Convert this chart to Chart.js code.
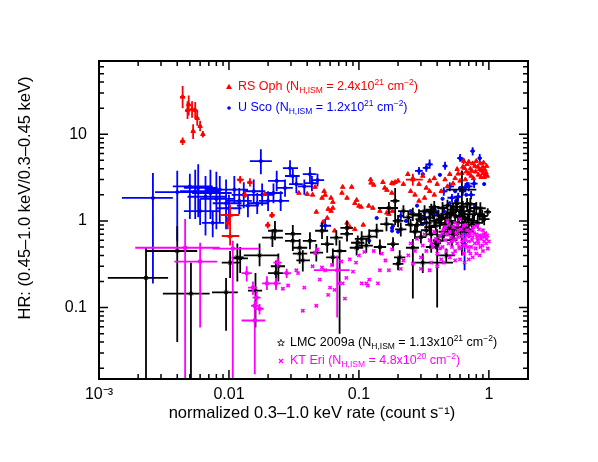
<!DOCTYPE html>
<html>
<head>
<meta charset="utf-8">
<script src="https://cdn.jsdelivr.net/npm/chart.js@4/dist/chart.umd.min.js"></script>
<style>
  body { margin: 0; background: #fff; }
  canvas { display: block; }
</style>
</head>
<body>
<canvas id="hrChart" width="598" height="462"></canvas>
<script>
// Series names and N_H,ISM values shown in the legend
var seriesNames = ["RS Oph", "U Sco", "LMC 2009a", "KT Eri"];
var nhMantissa = ["2.4", "1.2", "1.13", "4.8"];
var nhExponent = ["21", "21", "21", "20"];
var seriesColors = ["#ff0000", "#0000ff", "#000000", "#ff00ff"];

// Axis tick labels (only the decades are labelled)
var xTickLabels = { "-3": "10\u207B\u00B3", "-2": "0.01", "-1": "0.1", "0": "1" };
var yTickLabels = { "-1": "0.1", "0": "1", "1": "10" };

// RS Oph: normalized rate, hardness ratio; error ranges [rateLo, rateHi, hrLo, hrHi] for the first points
var rsOphRate = [
  0.0044, 0.0049, 0.0048, 0.0052, 0.0055, 0.0057, 0.0053, 0.0060, 0.0063, 0.0044,
  0.0122, 0.0145, 0.0133, 0.0102, 0.0102, 0.0098, 0.0199, 0.0214, 0.26, 0.64,
  0.0189, 0.0345, 0.040, 0.044, 0.046, 0.052, 0.054, 0.055, 0.061, 0.063,
  0.074, 0.075, 0.081, 0.088, 0.093, 0.096, 0.100, 0.104, 0.123, 0.124,
  0.130, 0.153, 0.158, 0.164, 0.179, 0.179, 0.19, 0.047, 0.058, 0.061,
  0.063, 0.057, 0.053, 0.065, 0.081, 0.085, 0.093, 0.108, 0.119, 0.128,
  0.145, 0.164, 0.17, 0.181, 0.183, 0.20, 0.22, 0.238, 0.25, 0.26,
  0.27, 0.29, 0.29, 0.31, 0.32, 0.33, 0.35, 0.35, 0.38, 0.38,
  0.40, 0.43, 0.46, 0.48, 0.50, 0.53, 0.55, 0.57, 0.58, 0.60,
  0.62, 0.63, 0.65, 0.66, 0.67, 0.68, 0.70, 0.70, 0.72, 0.73,
  0.74, 0.75, 0.76, 0.78, 0.79, 0.80, 0.82, 0.83, 0.85, 0.86,
  0.87, 0.88, 0.90, 0.90, 0.91, 0.92, 0.93, 0.94, 0.95, 0.96, 0.97
];
var rsOphHR = [
  27, 22, 19, 19.4, 19, 15.3, 10.8, 12.4, 10.0, 8.3,
  3.0, 2.8, 2.0, 1.17, 0.67, 0.95, 0.9, 1.17, 3.0, 4.9,
  2.04, 2.1, 2.04, 2.0, 2.46, 1.84, 2.2, 1.99, 1.84, 1.65,
  2.1, 2.46, 1.84, 2.46, 1.6, 1.74, 1.49, 1.45, 3.0, 2.75,
  2.6, 2.8, 2.4, 2.27, 2.73, 2.1, 2.8, 1.27, 1.37, 1.30,
  1.41, 1.08, 0.97, 0.77, 0.95, 0.85, 0.8, 0.9, 1.49, 1.41,
  1.30, 1.24, 1.2, 1.30, 2.7, 2.9, 2.66, 3.46, 2.2, 3.1,
  2.0, 2.66, 1.7, 3.3, 1.84, 2.4, 2.9, 2.2, 3.1, 2.0,
  2.66, 2.2, 3.0, 2.5, 3.46, 2.7, 3.1, 3.95, 3.5, 2.9,
  3.56, 4.2, 4.06, 3.0, 3.7, 4.5, 3.5, 4.8, 4.0, 3.3,
  3.77, 4.6, 3.1, 4.3, 3.7, 4.9, 4.2, 3.4, 3.95, 4.6,
  3.2, 3.8, 3.56, 4.2, 4.7, 3.2, 3.9, 3.46, 3.6, 4.3, 3.3
];
var rsOphErr = [
  [0.0042, 0.0046, 20, 36], [0.0047, 0.0051, 16.5, 28], [0.0046, 0.0050, 15, 24],
  [0.0050, 0.0054, 15.5, 24], [0.0053, 0.0057, 15, 23.5], [0.0055, 0.0059, 12.5, 19],
  [0.0051, 0.0055, 8.8, 13], [0.0058, 0.0062, 10.8, 14.3], [0.0061, 0.0065, 9.2, 10.9],
  [0.0042, 0.0046, 7.5, 9.2], [0.0115, 0.0130, 2.7, 3.3], [0.0138, 0.0152, 2.5, 3.1],
  [0.0127, 0.0139, 1.85, 2.2], [0.0086, 0.0120, 0.85, 1.55], [0.0088, 0.0120, 0.52, 0.85],
  [0.0094, 0.0103, 0.8, 1.12], [0.0190, 0.0208, 0.82, 0.98], [0.0205, 0.0225, 1.08, 1.27],
  [0.230, 0.310, 2.55, 3.5], [0.62, 0.66, 4.5, 5.3]
];

// U Sco
var uScoRate = [
  0.0026, 0.0040, 0.0050, 0.0055, 0.0058, 0.0066, 0.0072, 0.0080, 0.0085, 0.0095,
  0.0060, 0.0075, 0.0100, 0.011, 0.012, 0.013, 0.014, 0.0155, 0.0165, 0.0176,
  0.018, 0.020, 0.022, 0.0233, 0.025, 0.027, 0.0295, 0.031, 0.033, 0.038,
  0.042, 0.0435, 0.048, 0.055, 0.35, 0.33, 0.29, 0.46, 0.60, 0.75,
  0.85, 0.65, 0.21, 0.45, 0.50, 0.58, 0.63, 0.70, 0.73, 0.77,
  0.52, 0.66, 0.32, 0.38,
  0.31, 0.42, 0.63, 0.92, 0.55, 0.60, 0.67, 0.68, 0.50, 0.47,
  0.35, 0.183, 0.23, 0.20, 0.31, 0.12, 0.18, 0.137, 0.18, 0.25,
  0.28, 0.32, 0.38, 0.40, 0.45, 0.52, 0.56, 0.44, 0.70, 0.78
];
var uScoHR = [
  1.84, 2.15, 2.5, 2.2, 2.4, 1.9, 2.1, 1.8, 2.3, 1.6,
  1.3, 0.95, 1.4, 2.3, 1.7, 2.0, 1.5, 2.2, 1.6, 4.9,
  2.0, 1.7, 2.1, 2.9, 1.7, 2.4, 4.06, 3.3, 2.66, 2.5,
  3.46, 2.73, 2.96, 0.88, 4.5, 4.1, 3.77, 4.3, 5.3, 6.4,
  5.3, 0.54, 1.14, 2.2, 2.5, 1.9, 2.2, 2.5, 2.0, 2.7,
  1.85, 2.45, 1.1, 1.3,
  3.46, 3.4, 5.1, 2.66, 2.2, 2.4, 2.0, 2.66, 1.6, 1.08,
  1.08, 0.88, 1.0, 0.75, 0.92, 0.59, 0.83, 1.08, 0.77, 1.3,
  1.5, 1.25, 1.4, 1.2, 1.3, 1.45, 1.7, 1.8, 1.3, 1.5
];
var uScoErr = [
  [0.0015, 0.0037, 0.19, 3.56], [0.0027, 0.0060, 0.59, 3.8], [0.0037, 0.0075, 1.05, 3.5],
  [0.0042, 0.0085, 1.05, 3.9], [0.0045, 0.0082, 1.1, 4.5], [0.0048, 0.0095, 0.68, 3.3],
  [0.0052, 0.0105, 1.05, 3.9], [0.0060, 0.0110, 0.8, 3.7], [0.0065, 0.0120, 0.95, 3.3],
  [0.0075, 0.0125, 0.8, 3.0], [0.0045, 0.0085, 0.9, 1.8], [0.0062, 0.0092, 0.65, 1.3],
  [0.0080, 0.0125, 1.0, 2.0], [0.009, 0.014, 1.6, 3.3], [0.0095, 0.015, 1.2, 2.4],
  [0.0105, 0.016, 1.4, 2.8], [0.0115, 0.017, 1.1, 2.0], [0.013, 0.019, 1.6, 3.0],
  [0.014, 0.020, 1.2, 2.1], [0.0145, 0.0214, 3.46, 6.7], [0.015, 0.022, 1.5, 2.7],
  [0.017, 0.024, 1.3, 2.2], [0.019, 0.026, 1.6, 2.7], [0.020, 0.027, 2.2, 3.8],
  [0.021, 0.029, 1.3, 2.2], [0.023, 0.031, 1.9, 3.0], [0.026, 0.034, 3.2, 5.0],
  [0.027, 0.035, 2.7, 4.0], [0.029, 0.037, 2.1, 3.3], [0.034, 0.043, 2.0, 3.0],
  [0.037, 0.047, 2.8, 4.2], [0.038, 0.049, 2.2, 3.3], [0.043, 0.054, 2.5, 3.5],
  [0.050, 0.061, 0.75, 1.05], [0.33, 0.37, 4.0, 5.1], [0.31, 0.35, 3.7, 4.6],
  [0.27, 0.31, 3.4, 4.2], [0.44, 0.48, 3.9, 4.8], [0.57, 0.63, 4.8, 5.9],
  [0.72, 0.78, 5.7, 7.1], [0.82, 0.88, 4.8, 5.9], [0.62, 0.68, 0.27, 0.75],
  [0.20, 0.22, 1.0, 1.3], [0.42, 0.48, 1.95, 2.45], [0.47, 0.54, 2.2, 2.8],
  [0.54, 0.62, 1.68, 2.12], [0.59, 0.67, 1.95, 2.45], [0.65, 0.75, 2.2, 2.8],
  [0.68, 0.78, 1.78, 2.22], [0.72, 0.82, 2.4, 3.0], [0.48, 0.56, 1.65, 2.05],
  [0.62, 0.70, 2.18, 2.72], [0.30, 0.34, 0.98, 1.22], [0.35, 0.41, 1.16, 1.45]
];

// LMC 2009a
var lmcRate = [
  0.0023, 0.0040, 0.0051, 0.0095, 0.0102, 0.0116, 0.0122, 0.0160, 0.0172, 0.0216,
  0.0226, 0.0230, 0.0240, 0.0310, 0.0310, 0.0350, 0.0350, 0.0370, 0.0420, 0.0470,
  0.0520, 0.0570, 0.0630, 0.0670, 0.0710, 0.0810, 0.0810, 0.0960, 0.0980, 0.1050,
  0.1140, 0.1200, 0.1370, 0.1450, 0.1630, 0.1700, 0.1830, 0.1900, 0.2060, 0.2100,
  0.2200, 0.2400, 0.2600, 0.2600, 0.2700, 0.2800, 0.2900, 0.3000, 0.3100, 0.3200,
  0.3300, 0.3500, 0.3500, 0.3600, 0.3700, 0.3800, 0.4000, 0.4100, 0.4200, 0.4300,
  0.4400, 0.4500, 0.4600, 0.4700, 0.4800, 0.5000, 0.5200, 0.5300, 0.5500, 0.5700,
  0.5800, 0.6000, 0.6200, 0.6300, 0.6500, 0.6600, 0.6800, 0.7000, 0.7200, 0.7500,
  0.8000, 0.8500, 0.8900, 0.9800,
  0.3000, 0.3300, 0.3600, 0.3900, 0.4100, 0.4400, 0.4700, 0.4900, 0.5100, 0.5400,
  0.5600, 0.5900, 0.6100, 0.6400, 0.6700, 0.6900, 0.7100, 0.7400, 0.7700, 0.8200,
  0.8600, 0.9200, 0.3900, 0.5200, 0.5700, 0.4800, 0.6300, 0.2000, 0.2500, 0.3800,
  0.3600, 0.2000
];
var lmcHR = [
  0.22, 0.45, 0.145, 0.15, 0.33, 0.38, 0.37, 0.157, 0.40, 0.64,
  0.77, 0.25, 0.30, 0.59, 0.71, 0.49, 0.42, 0.35, 0.59, 0.43,
  0.77, 0.54, 0.38, 0.64, 0.45, 0.83, 0.71, 0.49, 0.56, 0.62,
  0.52, 0.66, 0.77, 0.50, 0.92, 1.41, 0.54, 1.70, 0.38, 0.80,
  1.30, 1.10, 0.49, 1.20, 0.75, 0.90, 1.15, 1.05, 0.33, 1.30,
  0.95, 0.85, 1.10, 0.70, 1.25, 1.00, 0.60, 0.59, 0.95, 1.05,
  1.41, 0.75, 0.90, 0.40, 1.20, 1.00, 0.85, 1.35, 1.15, 0.80,
  0.95, 1.30, 2.30, 0.85, 1.10, 0.95, 1.57, 0.75, 1.57, 1.00,
  1.41, 1.20, 1.14, 1.27,
  0.65, 0.78, 1.35, 0.88, 1.15, 0.68, 1.10, 0.80, 1.25, 0.70,
  1.45, 1.10, 0.75, 1.20, 0.80, 1.05, 1.30, 0.90, 1.20, 0.95,
  1.40, 1.05, 0.55, 0.60, 1.60, 1.50, 1.45, 1.00, 0.90, 1.45,
  0.50, 0.32
];
var lmcErr = [
  [0.00117, 0.0034, 0.01, 0.49], [0.0023, 0.0057, 0.04, 0.87], [0.0031, 0.0071, 0.01, 0.33],
  [0.0074, 0.0117, 0.054, 0.22], [0.0088, 0.0120, 0.22, 0.45], [0.0105, 0.0130, 0.20, 0.55],
  [0.0105, 0.0140, 0.25, 0.50], [0.0140, 0.0180, 0.059, 0.25], [0.0130, 0.0240, 0.30, 0.55],
  [0.0180, 0.0260, 0.50, 0.80], [0.0200, 0.0260, 0.60, 1.00], [0.0200, 0.0260, 0.17, 0.35],
  [0.0210, 0.0270, 0.20, 0.42], [0.0270, 0.0350, 0.45, 0.75], [0.0270, 0.0360, 0.55, 0.90],
  [0.0310, 0.0400, 0.38, 0.62], [0.0310, 0.0400, 0.32, 0.55], [0.0330, 0.0420, 0.26, 0.46],
  [0.0370, 0.0470, 0.47, 0.74], [0.0420, 0.0530, 0.34, 0.54], [0.0460, 0.0580, 0.62, 0.95],
  [0.0510, 0.0640, 0.43, 0.67], [0.0560, 0.0700, 0.30, 0.48], [0.0600, 0.0750, 0.52, 0.78],
  [0.0630, 0.0800, 0.05, 0.60], [0.0720, 0.0900, 0.68, 1.00], [0.0720, 0.0900, 0.58, 0.86],
  [0.0850, 0.1080, 0.40, 0.60], [0.0870, 0.1100, 0.46, 0.68], [0.0930, 0.1180, 0.50, 0.76],
  [0.1000, 0.1280, 0.43, 0.63], [0.1060, 0.1350, 0.54, 0.80], [0.1220, 0.1540, 0.63, 0.93],
  [0.1300, 0.1620, 0.41, 0.61], [0.1460, 0.1820, 0.76, 1.10], [0.1400, 0.2000, 1.20, 1.65],
  [0.1650, 0.2030, 0.45, 0.65], [0.1750, 0.2050, 0.90, 2.40], [0.1860, 0.2280, 0.31, 0.46],
  [0.1900, 0.2320, 0.66, 0.96], [0.2000, 0.2420, 1.10, 1.52], [0.2180, 0.2640, 0.92, 1.30],
  [0.2300, 0.2900, 0.127, 0.62], [0.2360, 0.2860, 1.00, 1.42], [0.2450, 0.2970, 0.62, 0.90],
  [0.2540, 0.3080, 0.75, 1.07], [0.2630, 0.3190, 0.96, 1.36], [0.2720, 0.3300, 0.88, 1.25],
  [0.2600, 0.5300, 0.25, 0.42], [0.2900, 0.3520, 1.10, 1.52], [0.3000, 0.3630, 0.80, 1.12],
  [0.3180, 0.3850, 0.71, 1.00], [0.3180, 0.3850, 0.93, 1.30], [0.3270, 0.3960, 0.58, 0.83],
  [0.3360, 0.4070, 1.05, 1.47], [0.3450, 0.4180, 0.84, 1.18], [0.3700, 0.4300, 0.10, 0.80],
  [0.3730, 0.4510, 0.49, 0.70], [0.3820, 0.4620, 0.80, 1.12], [0.3910, 0.4730, 0.88, 1.24],
  [0.4000, 0.4840, 1.20, 1.65], [0.4100, 0.4950, 0.63, 0.89], [0.4180, 0.5060, 0.76, 1.06],
  [0.4000, 0.5500, 0.33, 0.48], [0.4360, 0.5280, 1.01, 1.41], [0.4550, 0.5500, 0.84, 1.18],
  [0.4730, 0.5720, 0.71, 1.00], [0.4820, 0.5830, 1.14, 1.58], [0.5000, 0.6050, 0.97, 1.35],
  [0.5180, 0.6270, 0.67, 0.95], [0.5270, 0.6380, 0.80, 1.12], [0.5450, 0.6600, 1.10, 1.52],
  [0.4700, 0.8000, 0.40, 3.80], [0.5730, 0.6930, 0.71, 1.00], [0.5910, 0.7150, 0.93, 1.30],
  [0.6000, 0.7260, 0.80, 1.12], [0.6180, 0.7480, 1.33, 1.84], [0.6360, 0.7700, 0.63, 0.89],
  [0.6550, 0.7920, 1.33, 1.84], [0.6820, 0.8250, 0.84, 1.18], [0.7270, 0.8800, 1.20, 1.65],
  [0.7730, 0.9350, 1.01, 1.41], [0.8090, 0.9790, 0.96, 1.34], [0.9200, 1.0400, 1.15, 1.40],
  [0.2730, 0.3300, 0.55, 0.76], [0.3000, 0.3630, 0.66, 0.91], [0.3270, 0.3960, 1.15, 1.58],
  [0.3550, 0.4290, 0.75, 1.03], [0.3730, 0.4510, 0.98, 1.35], [0.4000, 0.4840, 0.58, 0.80],
  [0.4270, 0.5170, 0.94, 1.29], [0.4450, 0.5390, 0.68, 0.94], [0.4640, 0.5610, 1.06, 1.46],
  [0.4910, 0.5940, 0.60, 0.82], [0.5090, 0.6160, 1.23, 1.70], [0.5360, 0.6490, 0.94, 1.29],
  [0.5550, 0.6710, 0.64, 0.88], [0.5820, 0.7040, 1.02, 1.40], [0.6090, 0.7370, 0.68, 0.94],
  [0.6270, 0.7590, 0.89, 1.23], [0.6450, 0.7810, 1.10, 1.52], [0.6730, 0.8140, 0.77, 1.05],
  [0.7000, 0.8470, 1.02, 1.40], [0.7450, 0.9020, 0.81, 1.11], [0.7820, 0.9460, 1.19, 1.64],
  [0.8360, 1.0120, 0.89, 1.23], [0.3550, 0.4290, 0.47, 0.64], [0.4730, 0.5720, 0.51, 0.70],
  [0.5180, 0.6270, 1.36, 1.87], [0.4360, 0.5280, 1.28, 1.76], [0.5730, 0.6930, 1.23, 1.70],
  [0.1820, 0.2200, 0.85, 1.17], [0.2270, 0.2750, 0.77, 1.05], [0.3450, 0.4180, 1.23, 1.70],
  [0.3270, 0.3960, 0.43, 0.58], [0.1820, 0.2200, 0.27, 0.37]
];

// KT Eri
var ktEriRate = [
  0.0046, 0.0060, 0.0107, 0.0137, 0.0153, 0.0163, 0.0158, 0.0172, 0.0158, 0.0196,
  0.0230, 0.0237, 0.0278, 0.0680,
  0.0285, 0.033, 0.034, 0.038, 0.037, 0.047, 0.046, 0.048, 0.055, 0.058,
  0.060, 0.065, 0.070, 0.078, 0.075, 0.080, 0.090, 0.100, 0.105, 0.110,
  0.114, 0.117, 0.120, 0.140, 0.145, 0.170, 0.210, 0.044, 0.050, 0.052,
  0.062, 0.073, 0.085, 0.095, 0.130, 0.150, 0.160, 0.180, 0.22, 0.24,
  0.26, 0.25, 0.27, 0.28, 0.30, 0.30, 0.31, 0.32, 0.33, 0.35,
  0.35, 0.36, 0.37, 0.38, 0.40, 0.41, 0.42, 0.43, 0.44, 0.45,
  0.45, 0.46, 0.47, 0.48, 0.48, 0.49, 0.50, 0.51, 0.52, 0.53,
  0.54, 0.55, 0.55, 0.55, 0.56, 0.57, 0.58, 0.60, 0.60, 0.60,
  0.61, 0.62, 0.63, 0.64, 0.65, 0.66, 0.67, 0.68, 0.70, 0.70,
  0.72, 0.73, 0.75, 0.76, 0.78, 0.80, 0.82, 0.84, 0.86, 0.88,
  0.90, 0.92, 0.94, 0.96, 0.98, 0.85, 0.75, 0.65, 0.40, 0.026,
  0.36, 0.39, 0.42, 0.44, 0.46, 0.50, 0.52, 0.53, 0.56, 0.58,
  0.59, 0.62, 0.63, 0.64, 0.66, 0.68, 0.69, 0.71, 0.72, 0.74,
  0.77, 0.79, 0.81, 0.83, 0.85, 0.87, 0.89, 0.91, 0.93, 0.95,
  0.97, 1.00, 0.70, 0.80, 0.90, 0.57, 0.49, 0.75, 0.81
];
var ktEriHR = [
  0.49, 0.34, 0.48, 0.25, 0.17, 0.13, 0.105, 0.097, 0.071, 0.19,
  0.19, 0.33, 0.25, 0.27,
  0.18, 0.27, 0.25, 0.17, 0.092, 0.105, 0.43, 0.47, 0.27, 0.14,
  0.17, 0.16, 0.19, 0.127, 0.19, 0.22, 0.26, 0.40, 0.19, 0.44,
  0.19, 0.18, 0.21, 0.19, 0.27, 0.27, 0.28, 0.30, 0.21, 0.29,
  0.31, 0.34, 0.36, 0.33, 0.45, 0.42, 0.35, 0.47, 0.35, 0.40,
  0.32, 0.55, 0.45, 0.62, 0.38, 0.28, 0.52, 0.70, 0.45, 0.60,
  0.27, 0.33, 0.50, 0.75, 0.42, 0.58, 0.66, 0.36, 0.50, 0.80,
  0.33, 0.60, 0.45, 0.70, 1.00, 0.55, 0.38, 0.65, 0.50, 0.85,
  0.60, 0.45, 0.95, 0.35, 0.72, 0.55, 0.65, 0.48, 1.05, 0.36,
  0.80, 0.58, 0.70, 0.42, 0.62, 0.52, 0.90, 0.68, 0.58, 0.45,
  0.75, 0.50, 0.65, 0.85, 0.55, 0.70, 0.60, 0.80, 0.50, 0.66,
  0.78, 0.58, 0.72, 0.62, 0.48, 0.40, 0.38, 0.33, 0.30, 0.165,
  0.55, 0.62, 0.48, 0.72, 0.85, 0.75, 0.58, 0.42, 0.62, 0.78,
  0.50, 0.66, 0.52, 0.88, 0.60, 0.78, 0.50, 0.68, 0.42, 0.60,
  0.72, 0.48, 0.65, 0.55, 0.68, 0.62, 0.52, 0.70, 0.65, 0.55,
  0.68, 0.58, 0.36, 0.42, 0.45, 0.90, 0.90, 0.80, 0.88
];
var ktEriErr = [
  [0.0019, 0.0085, 0.010, 1.05], [0.0038, 0.0081, 0.059, 0.56], [0.0075, 0.0170, 0.010, 0.59],
  [0.0125, 0.0150, 0.20, 0.30], [0.0140, 0.0165, 0.14, 0.20], [0.0152, 0.0175, 0.11, 0.155],
  [0.0148, 0.0170, 0.09, 0.12], [0.0160, 0.0185, 0.083, 0.11], [0.0125, 0.0190, 0.017, 0.095],
  [0.0180, 0.0210, 0.16, 0.23], [0.0210, 0.0250, 0.16, 0.22], [0.0220, 0.0255, 0.29, 0.38],
  [0.0260, 0.0300, 0.22, 0.28], [0.0450, 0.0850, 0.077, 0.40]
];

var FONT = "'Liberation Sans', Arial, Helvetica, sans-serif";

function makePoints(rate, hr, err) {
  return rate.map(function (r, i) {
    return { x: r, y: hr[i], err: err[i] || null };
  });
}

function decadeOf(v) {
  var e = Math.log10(v);
  return Math.abs(e - Math.round(e)) < 1e-6 ? Math.round(e) : null;
}

// error bars drawn just before each dataset so the stacking order matches
var errorBars = {
  id: "errorBars",
  beforeDatasetDraw: function (chart, args) {
    var ds = chart.data.datasets[args.index];
    var xs = chart.scales.x, ys = chart.scales.y, a = chart.chartArea;
    var ctx = chart.ctx;
    ctx.save();
    ctx.beginPath();
    ctx.rect(a.left, a.top, a.right - a.left, a.bottom - a.top);
    ctx.clip();
    ctx.strokeStyle = ds.borderColor;
    ctx.lineWidth = ds.errorWidth;
    ctx.beginPath();
    ds.data.forEach(function (p) {
      if (!p.err) return;
      var px = xs.getPixelForValue(p.x), py = ys.getPixelForValue(p.y);
      ctx.moveTo(xs.getPixelForValue(p.err[0]), py);
      ctx.lineTo(xs.getPixelForValue(p.err[1]), py);
      ctx.moveTo(px, ys.getPixelForValue(p.err[2]));
      ctx.lineTo(px, ys.getPixelForValue(p.err[3]));
    });
    ctx.stroke();
    ctx.restore();
  }
};

function richText(ctx, parts, x, y, color) {
  ctx.fillStyle = color;
  ctx.textAlign = "left";
  ctx.textBaseline = "middle";
  parts.forEach(function (p) {
    var size = p[1] ? 8.5 : 12.5;
    var dy = p[1] === "sub" ? 3.5 : p[1] === "sup" ? -4.5 : 0;
    ctx.font = size + "px " + FONT;
    ctx.fillText(p[0], x, y + dy);
    x += ctx.measureText(p[0]).width;
  });
}

// frame, inward ticks, axis titles and the in-plot legend
var decor = {
  id: "decor",
  afterDraw: function (chart) {
    var ctx = chart.ctx, a = chart.chartArea;
    var xs = chart.scales.x, ys = chart.scales.y;
    ctx.save();
    ctx.strokeStyle = "#000";
    ctx.lineWidth = 1.5;
    ctx.beginPath();
    for (var e = -3; e <= 1; e++) {
      for (var m = 1; m <= 9; m++) {
        var v = m * Math.pow(10, e);
        var len = m === 1 ? 9 : 5;
        if (v >= xs.min && v <= xs.max) {
          var px = xs.getPixelForValue(v);
          ctx.moveTo(px, a.bottom); ctx.lineTo(px, a.bottom - len);
          ctx.moveTo(px, a.top); ctx.lineTo(px, a.top + len);
        }
      }
    }
    for (var e2 = -2; e2 <= 1; e2++) {
      for (var m2 = 1; m2 <= 9; m2++) {
        var v2 = m2 * Math.pow(10, e2);
        var len2 = m2 === 1 ? 9 : 5;
        if (v2 >= ys.min && v2 <= ys.max) {
          var py = ys.getPixelForValue(v2);
          ctx.moveTo(a.left, py); ctx.lineTo(a.left + len2, py);
          ctx.moveTo(a.right, py); ctx.lineTo(a.right - len2, py);
        }
      }
    }
    ctx.stroke();
    ctx.lineWidth = 2;
    ctx.strokeRect(a.left, a.top, a.right - a.left, a.bottom - a.top);

    // axis titles
    ctx.fillStyle = "#000";
    ctx.font = "16.5px " + FONT;
    ctx.textAlign = "center";
    ctx.textBaseline = "middle";
    ctx.fillText("normalized 0.3\u20131.0 keV rate (count s\u207B\u00B9)", 312, 413);
    ctx.save();
    ctx.translate(25, 198);
    ctx.rotate(-Math.PI / 2);
    ctx.fillText("HR: (0.45\u20131.0 keV/0.3\u20130.45 keV)", 0, 0);
    ctx.restore();

    // legend
    var spots = [[229, 87], [229, 108], [281, 343], [281, 361]];
    seriesNames.forEach(function (name, i) {
      var mx = spots[i][0], my = spots[i][1], c = seriesColors[i];
      ctx.fillStyle = c; ctx.strokeStyle = c; ctx.lineWidth = 1;
      ctx.beginPath();
      if (i === 0) {
        ctx.moveTo(mx, my - 3.2); ctx.lineTo(mx + 3, my + 2); ctx.lineTo(mx - 3, my + 2);
        ctx.closePath(); ctx.fill();
      } else if (i === 1) {
        ctx.arc(mx, my, 1.8, 0, Math.PI * 2); ctx.fill();
      } else if (i === 2) {
        for (var k = 0; k < 10; k++) {
          var r = k % 2 ? 1.5 : 3.6, ang = -Math.PI / 2 + k * Math.PI / 5;
          var sx = mx + r * Math.cos(ang), sy = my + r * Math.sin(ang);
          if (k === 0) ctx.moveTo(sx, sy); else ctx.lineTo(sx, sy);
        }
        ctx.closePath(); ctx.lineWidth = 0.8; ctx.stroke();
      } else {
        ctx.moveTo(mx - 2, my - 2); ctx.lineTo(mx + 2, my + 2);
        ctx.moveTo(mx + 2, my - 2); ctx.lineTo(mx - 2, my + 2);
        ctx.lineWidth = 1.3; ctx.stroke();
      }
      richText(ctx, [
        [name + " (N", null], ["H,ISM", "sub"], [" = " + nhMantissa[i] + "x10", null],
        [nhExponent[i], "sup"], [" cm", null], ["\u22122", "sup"], [")", null]
      ], mx + 9, my, c);
    });
    ctx.restore();
  }
};

var ctx = document.getElementById("hrChart").getContext("2d");
var hrChart = new Chart(ctx, {
  type: "scatter",
  data: {
    datasets: [
      {
        label: seriesNames[0],
        data: makePoints(rsOphRate, rsOphHR, rsOphErr),
        pointStyle: "triangle",
        radius: 2.6,
        backgroundColor: seriesColors[0],
        borderColor: seriesColors[0],
        borderWidth: 1,
        errorWidth: 1.8,
        order: 2
      },
      {
        label: seriesNames[1],
        data: makePoints(uScoRate, uScoHR, uScoErr),
        pointStyle: "circle",
        radius: 1.6,
        backgroundColor: seriesColors[1],
        borderColor: seriesColors[1],
        borderWidth: 1,
        errorWidth: 1.8,
        order: 3
      },
      {
        label: seriesNames[2],
        data: makePoints(lmcRate, lmcHR, lmcErr),
        pointStyle: "star",
        radius: 2.5,
        backgroundColor: seriesColors[2],
        borderColor: seriesColors[2],
        borderWidth: 1,
        errorWidth: 1.8,
        order: 1
      },
      {
        label: seriesNames[3],
        data: makePoints(ktEriRate, ktEriHR, ktEriErr),
        pointStyle: "crossRot",
        radius: 2.3,
        backgroundColor: seriesColors[3],
        borderColor: seriesColors[3],
        borderWidth: 1.6,
        errorWidth: 1.8,
        order: 0
      }
    ]
  },
  options: {
    responsive: false,
    animation: false,
    layout: { padding: { top: 61, right: 70, left: 0, bottom: 0 } },
    plugins: {
      legend: { display: false },
      tooltip: { enabled: false }
    },
    scales: {
      x: {
        type: "logarithmic",
        min: 0.001,
        max: 2,
        afterFit: function (s) { s.height = 83; },
        grid: { display: false, drawTicks: false },
        border: { display: false },
        ticks: {
          autoSkip: false,
          maxRotation: 0,
          padding: 6,
          color: "#000",
          font: { size: 16, family: FONT },
          callback: function (v) {
            var d = decadeOf(v);
            return d !== null && xTickLabels[d] ? xTickLabels[d] : "";
          }
        }
      },
      y: {
        type: "logarithmic",
        min: 0.015,
        max: 70,
        afterFit: function (s) { s.width = 99; },
        grid: { display: false, drawTicks: false },
        border: { display: false },
        ticks: {
          autoSkip: false,
          padding: 12,
          color: "#000",
          font: { size: 16, family: FONT },
          callback: function (v) {
            var d = decadeOf(v);
            return d !== null && yTickLabels[d] ? yTickLabels[d] : "";
          }
        }
      }
    }
  },
  plugins: [errorBars, decor]
});
</script>
</body>
</html>
